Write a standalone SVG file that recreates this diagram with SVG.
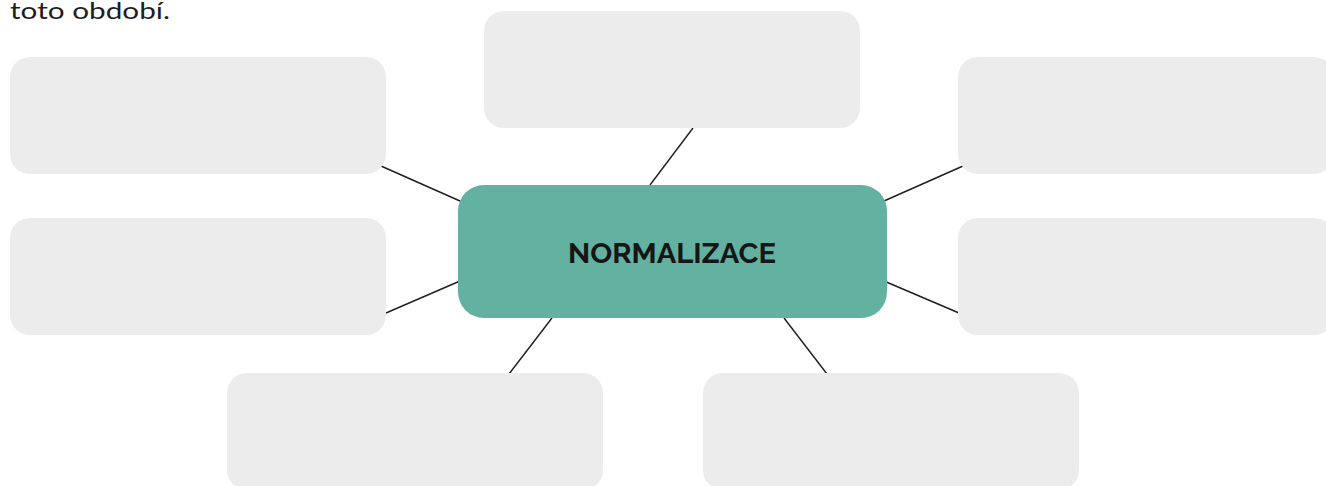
<svg xmlns="http://www.w3.org/2000/svg" width="1326" height="486" viewBox="0 0 1326 486">
<style>
.box{fill:#ECECEC}
.hub{fill:#63B1A0}
.conn line{stroke:#1E1E1E;stroke-width:1.4}
.title{font-family:Raleway,"Lato","Liberation Sans",sans-serif;font-weight:700;font-size:28px;fill:#161616}
.note{font-family:"Lato","Liberation Sans",sans-serif;font-weight:400;font-size:23px;fill:#1E1E1E}
</style>
<rect width="1326" height="486" fill="#FFFFFF"/>
<text class="note" x="10" y="19" textLength="160" lengthAdjust="spacingAndGlyphs">toto období.</text>
<g class="conn" id="connectors">
<line x1="381" y1="166" x2="460" y2="201"/>
<line x1="386" y1="313" x2="460" y2="281"/>
<line x1="650" y1="185" x2="693" y2="128"/>
<line x1="552" y1="318" x2="509" y2="374"/>
<line x1="884" y1="201" x2="963" y2="166"/>
<line x1="884" y1="281" x2="959" y2="313"/>
<line x1="784" y1="318" x2="827" y2="374"/>
</g>
<g id="box-top"><rect class="box" x="484" y="11" width="376" height="117" rx="20"/></g>
<g id="box-left-top"><rect class="box" x="10" y="57" width="376" height="117" rx="20"/></g>
<g id="box-left-bottom"><rect class="box" x="10" y="218" width="376" height="117" rx="20"/></g>
<g id="box-right-top"><rect class="box" x="958" y="57" width="376" height="117" rx="20"/></g>
<g id="box-right-bottom"><rect class="box" x="958" y="218" width="376" height="117" rx="20"/></g>
<g id="box-bottom-left"><rect class="box" x="227" y="373" width="376" height="117" rx="20"/></g>
<g id="box-bottom-right"><rect class="box" x="703" y="373" width="376" height="117" rx="20"/></g>
<g id="hub">
<rect class="hub" x="458" y="185" width="429" height="133" rx="26"/>
<text class="title" x="672" y="263" text-anchor="middle" textLength="208" lengthAdjust="spacingAndGlyphs">NORMALIZACE</text>
</g>
</svg>
